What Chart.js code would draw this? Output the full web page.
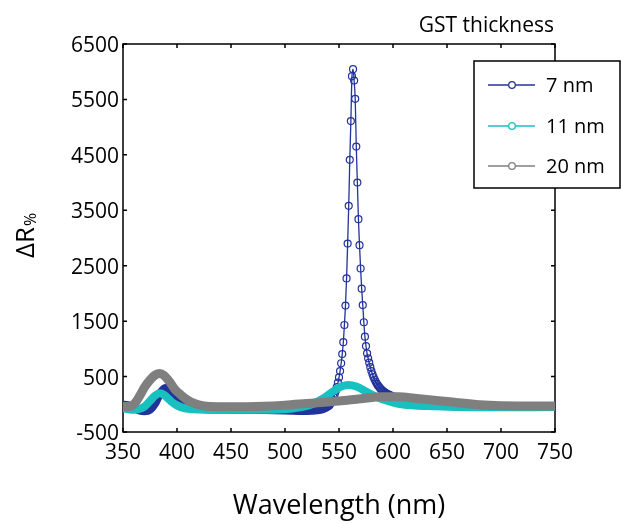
<!DOCTYPE html>
<html>
<head>
<meta charset="utf-8">
<script src="https://cdn.jsdelivr.net/npm/chart.js@4"></script>
<style>
  html, body { margin: 0; padding: 0; background: #fff; }
  #wrap { width: 621px; height: 524px; position: relative; }
</style>
</head>
<body>
<div id="wrap"><canvas id="chart"></canvas></div>
<script>
// data (wavelength in nm, delta R in %)
var wave7 = [350, 355, 360, 365, 370, 375, 380, 385, 390, 395, 400, 405, 410, 420, 440, 470, 500, 520, 530, 535, 540,
    541, 542, 543, 544, 545, 546, 547, 548, 549, 550, 551, 552, 553, 554, 555, 556, 557, 558, 559, 560,
    561, 562, 563, 564, 565, 566, 567, 568, 569, 570, 571, 572, 573, 574, 575, 576, 577, 578, 579, 580,
    581, 582, 583, 584, 585, 586, 587, 588, 589, 590, 591, 592, 593, 594, 595, 596, 597, 598, 599,
    600, 605, 610, 620, 640, 660, 700, 750];
var delta7 = [-10, -15, -60, -110, -125, -100, 20, 220, 300, 230, 110, 20, -40, -80, -95, -100, -110, -120, -110, -90, -40,
    -20, 10, 50, 90, 130, 180, 240, 310, 390, 485, 600, 740, 905, 1120, 1430, 1780, 2270, 2900, 3580, 4410,
    5110, 5920, 6045, 5840, 5510, 4650, 4000, 3340, 2870, 2450, 2085, 1790, 1480, 1220, 1050, 920, 830, 750, 670, 600,
    540, 490, 445, 405, 370, 340, 315, 290, 270, 250, 235, 220, 205, 195, 185, 175, 165, 155, 148,
    140, 100, 70, 30, -5, -20, -30, -30];

var wave11 = [350, 355, 360, 365, 370, 375, 380, 384, 388, 392, 396, 400, 405, 410, 420, 440, 470, 500, 515, 525,
    535, 545, 552, 559, 566, 575, 585, 595, 606, 620, 637, 660, 700, 750];
var delta11 = [-70, -90, -100, -85, -40, 60, 160, 200, 170, 100, 30, -20, -60, -80, -95, -100, -100, -90, -50, 0,
    100, 240, 320, 350, 320, 230, 130, 60, 5, -20, -35, -50, -55, -50];

var wave20 = [350, 356, 361, 366, 370, 375, 380, 384, 388, 393, 398, 403, 408, 413, 420, 430, 450, 480, 500, 520,
    550, 570, 590, 605, 620, 640, 655, 680, 700, 750];
var delta20 = [-40, -40, 20, 170, 310, 440, 530, 555, 520, 410, 270, 180, 100, 40, -10, -40, -45, -35, -15, 15,
    60, 100, 135, 135, 110, 70, 40, -10, -25, -30];

var seriesLabels = ['7 nm', '11 nm', '20 nm'];
var xTicks = [350, 400, 450, 500, 550, 600, 650, 700, 750];
var yTicks = [-500, 500, 1500, 2500, 3500, 4500, 5500, 6500];

var blue = '#23339c';
var cyan = '#19c0c0';
var grey = '#7f7f7f';
var fontFam = '"Open Sans", "Noto Sans", sans-serif';

function pts(xs, ys) {
    return xs.map((w, i) => ({ x: w, y: ys[i] }));
}

const framePlugin = {
    id: 'frame',
    beforeDatasetsDraw(chart) {
        const { ctx, chartArea: a, scales: { x, y } } = chart;
        ctx.save();
        ctx.strokeStyle = '#000';
        ctx.lineWidth = 1.5;
        ctx.strokeRect(a.left, a.top, a.right - a.left, a.bottom - a.top);
        ctx.beginPath();
        x.ticks.forEach(t => {
            let px = x.getPixelForValue(t.value);
            ctx.moveTo(px, a.bottom); ctx.lineTo(px, a.bottom - 4);
            ctx.moveTo(px, a.top); ctx.lineTo(px, a.top + 4);
        });
        y.ticks.forEach(t => {
            let py = y.getPixelForValue(t.value);
            ctx.moveTo(a.left, py); ctx.lineTo(a.left + 4, py);
            ctx.moveTo(a.right, py); ctx.lineTo(a.right - 4, py);
        });
        ctx.stroke();
        ctx.restore();
    },
    afterDraw(chart) {
        const ctx = chart.ctx;
        ctx.save();
        ctx.fillStyle = '#000';

        // title top right
        ctx.font = '21px ' + fontFam;
        ctx.textAlign = 'right';
        ctx.textBaseline = 'alphabetic';
        ctx.fillText('GST thickness', 554, 32);

        // y axis title with small %
        ctx.translate(34, 258);
        ctx.rotate(-Math.PI / 2);
        ctx.textAlign = 'left';
        ctx.font = '26px ' + fontFam;
        ctx.fillText('ΔR', 0, 0);
        let w = ctx.measureText('ΔR').width;
        ctx.font = '16px ' + fontFam;
        ctx.fillText('%', w + 1, 2);
        ctx.setTransform(1, 0, 0, 1, 0, 0);

        // legend box
        ctx.fillStyle = '#fff';
        ctx.fillRect(474, 61, 146, 127);
        ctx.strokeStyle = '#000';
        ctx.lineWidth = 1.5;
        ctx.strokeRect(474, 61, 146, 127);
        const rows = [85, 126, 166];
        chart.data.datasets.forEach((ds, i) => {
            let yy = rows[i];
            ctx.strokeStyle = ds.borderColor;
            ctx.lineWidth = 1.3;
            ctx.beginPath();
            ctx.moveTo(488, yy); ctx.lineTo(535, yy);
            ctx.stroke();
            ctx.fillStyle = '#fff';
            ctx.beginPath();
            ctx.arc(512, yy, 3.3, 0, Math.PI * 2);
            ctx.fill();
            ctx.stroke();
            ctx.fillStyle = '#000';
            ctx.font = '20px ' + fontFam;
            ctx.textAlign = 'left';
            ctx.textBaseline = 'middle';
            ctx.fillText(ds.label, 546, yy + 1);
        });
        ctx.restore();
    }
};

let ctx = document.getElementById('chart');
let chart = new Chart(ctx, {
    type: 'line',
    data: {
        datasets: [{
            label: seriesLabels[0],
            data: pts(wave7, delta7),
            borderColor: blue,
            borderWidth: 8,
            pointRadius: c => (c.raw && c.raw.x > 540 && c.raw.x < 600) ? 3.5 : 0,
            pointBorderColor: blue,
            pointBackgroundColor: 'rgba(0,0,0,0)',
            pointBorderWidth: 1.2,
            segment: {
                borderWidth: c => (c.p0.parsed.x >= 541 && c.p1.parsed.x <= 599) ? 1.3 : 8
            },
            cubicInterpolationMode: 'monotone',
            borderCapStyle: 'round',
            borderJoinStyle: 'round',
            order: 3
        }, {
            label: seriesLabels[1],
            data: pts(wave11, delta11),
            borderColor: cyan,
            borderWidth: 8,
            pointRadius: 0,
            cubicInterpolationMode: 'monotone',
            borderCapStyle: 'round',
            borderJoinStyle: 'round',
            order: 2
        }, {
            label: seriesLabels[2],
            data: pts(wave20, delta20),
            borderColor: grey,
            borderWidth: 9,
            pointRadius: 0,
            cubicInterpolationMode: 'monotone',
            borderCapStyle: 'round',
            borderJoinStyle: 'round',
            order: 1
        }]
    },
    options: {
        responsive: true,
        maintainAspectRatio: false,
        animation: false,
        devicePixelRatio: 1,
        events: [],
        layout: { padding: { top: 44, right: 66, left: 0, bottom: 0 } },
        plugins: {
            legend: { display: false },
            tooltip: { enabled: false }
        },
        scales: {
            x: {
                type: 'linear',
                min: 350,
                max: 750,
                afterBuildTicks: s => { s.ticks = xTicks.map(v => ({ value: v })); },
                afterFit: s => { s.height = 92; },
                grid: { display: false, drawTicks: false },
                border: { display: false },
                ticks: {
                    color: '#000',
                    font: { family: fontFam, size: 21 },
                    padding: 8,
                    maxRotation: 0,
                    autoSkip: false,
                    callback: v => String(v)
                },
                title: {
                    display: true,
                    text: 'Wavelength (nm)',
                    color: '#000',
                    font: { family: fontFam, size: 27 },
                    padding: { top: 0, bottom: 1 }
                }
            },
            y: {
                type: 'linear',
                min: -500,
                max: 6500,
                afterBuildTicks: s => { s.ticks = yTicks.map(v => ({ value: v })); },
                afterFit: s => { s.width = 123; },
                grid: { display: false, drawTicks: false },
                border: { display: false },
                ticks: {
                    color: '#000',
                    font: { family: fontFam, size: 21 },
                    padding: 4,
                    labelOffset: 2,
                    autoSkip: false,
                    callback: v => String(v)
                }
            }
        }
    },
    plugins: [framePlugin]
});
</script>
</body>
</html>
